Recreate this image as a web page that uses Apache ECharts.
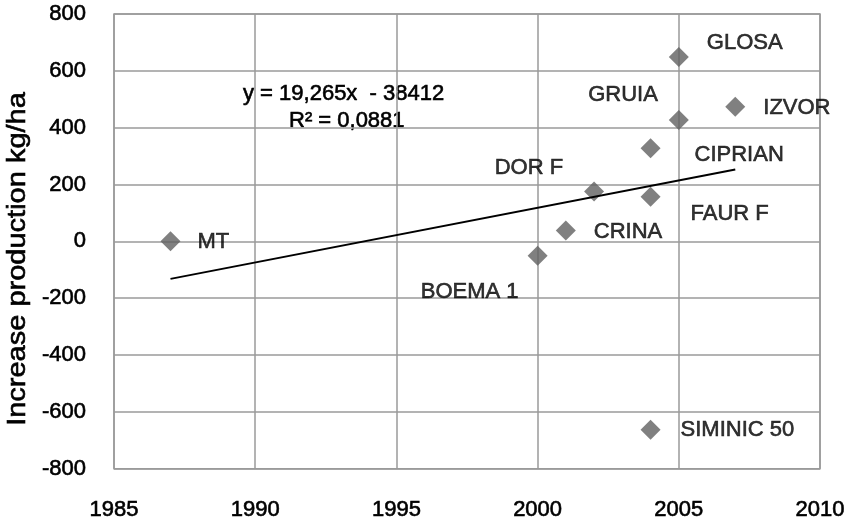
<!DOCTYPE html>
<html>
<head>
<meta charset="utf-8">
<script src="https://cdn.jsdelivr.net/npm/echarts@6/dist/echarts.min.js"></script>
<style>html,body{margin:0;padding:0;background:#fff}#c{width:849px;height:521px}</style>
</head>
<body>
<div id="c"></div>
<script>
// ---- data ----
const varieties = ['MT','BOEMA 1','CRINA','DOR F','FAUR F','CIPRIAN','GRUIA','GLOSA','IZVOR','SIMINIC 50'];
const years     = [1987, 2000, 2001, 2002, 2004, 2004, 2005, 2005, 2007, 2004];
const increase  = [0, -51, 38, 175, 157, 328, 427, 649, 474, -663];
const trendX = [1987, 2007];
const trendY = [-132, 253];
const xTicks = [1985, 1990, 1995, 2000, 2005, 2010];
const yTicks = [-800, -600, -400, -200, 0, 200, 400, 600, 800];
const equationText = 'y = 19,265x  - 38412';
const r2Text = 'R\u00B2 = 0,0881';
const yAxisTitle = 'Increase production kg/ha';

// ---- label layout (pixel offsets from marker centre) ----
const labelLayout = {
  'MT':        {dx: 27, dy: 1,   align: 'left'},
  'BOEMA 1':   {dx: -19, dy: 36, align: 'right'},
  'CRINA':     {dx: 28, dy: 1,   align: 'left'},
  'DOR F':     {dx: -31, dy: -24, align: 'right'},
  'FAUR F':    {dx: 40, dy: 17,  align: 'left'},
  'CIPRIAN':   {dx: 44, dy: 7,   align: 'left'},
  'GRUIA':     {dx: -21, dy: -25, align: 'right'},
  'GLOSA':     {dx: 28, dy: -14, align: 'left'},
  'IZVOR':     {dx: 28, dy: 1,   align: 'left'},
  'SIMINIC 50':{dx: 30, dy: 0,   align: 'left'}
};

const FONT = "'Liberation Sans', Arial, sans-serif";
const FS = 22;
const TB = 0.6; // slight text thickening to match the reference rendering
const chart = echarts.init(document.getElementById('c'), null, {renderer: 'canvas'});

const points = varieties.map((n, i) => {
  const L = labelLayout[n];
  return {
    name: n,
    value: [years[i], increase[i]],
    label: {
      show: true, formatter: n, position: 'inside',
      color: '#000', fontSize: FS, fontFamily: FONT,
      textBorderColor: '#000', textBorderWidth: TB,
      align: L.align, verticalAlign: 'middle', offset: [L.dx, L.dy]
    }
  };
});

const axisLabelStyle = {color: '#000', fontSize: FS, fontFamily: FONT, textBorderColor: '#000', textBorderWidth: TB};

chart.setOption({
  animation: false,
  backgroundColor: '#fff',
  grid: {left: 114, right: 29, top: 14, bottom: 52, show: true, borderColor: '#9a9a9a', borderWidth: 1.5},
  xAxis: {
    type: 'value', min: xTicks[0], max: xTicks[xTicks.length - 1], interval: 5,
    axisLine: {show: false}, axisTick: {show: false},
    splitLine: {show: true, lineStyle: {color: '#9a9a9a', width: 1.5}},
    axisLabel: Object.assign({margin: 30, formatter: v => String(v)}, axisLabelStyle)
  },
  yAxis: {
    type: 'value', min: yTicks[0], max: yTicks[yTicks.length - 1], interval: 200,
    axisLine: {show: false}, axisTick: {show: false},
    splitLine: {show: true, lineStyle: {color: '#9a9a9a', width: 1.5}},
    axisLabel: Object.assign({margin: 28, formatter: v => String(v)}, axisLabelStyle)
  },
  series: [
    {
      type: 'scatter', symbol: 'diamond', symbolSize: 20,
      itemStyle: {color: '#606060'},
      data: points, z: 3
    },
    {
      type: 'line', symbol: 'none', silent: true,
      lineStyle: {color: '#000', width: 2},
      data: trendX.map((x, i) => [x, trendY[i]]), z: 4
    }
  ],
  graphic: [
    {type: 'text', x: 243, y: 94, style: {text: equationText, fill: '#000', stroke: '#000', lineWidth: TB, font: FS + 'px ' + FONT, align: 'left', verticalAlign: 'middle'}},
    {type: 'text', x: 289, y: 121, style: {text: r2Text, fill: '#000', stroke: '#000', lineWidth: TB, font: FS + 'px ' + FONT, align: 'left', verticalAlign: 'middle'}},
    {type: 'text', x: 18, y: 259, rotation: Math.PI / 2, scaleX: 1.16,
     style: {text: yAxisTitle, fill: '#000', stroke: '#000', lineWidth: TB, font: '25px ' + FONT, align: 'center', verticalAlign: 'middle'}}
  ]
});
</script>
</body>
</html>
